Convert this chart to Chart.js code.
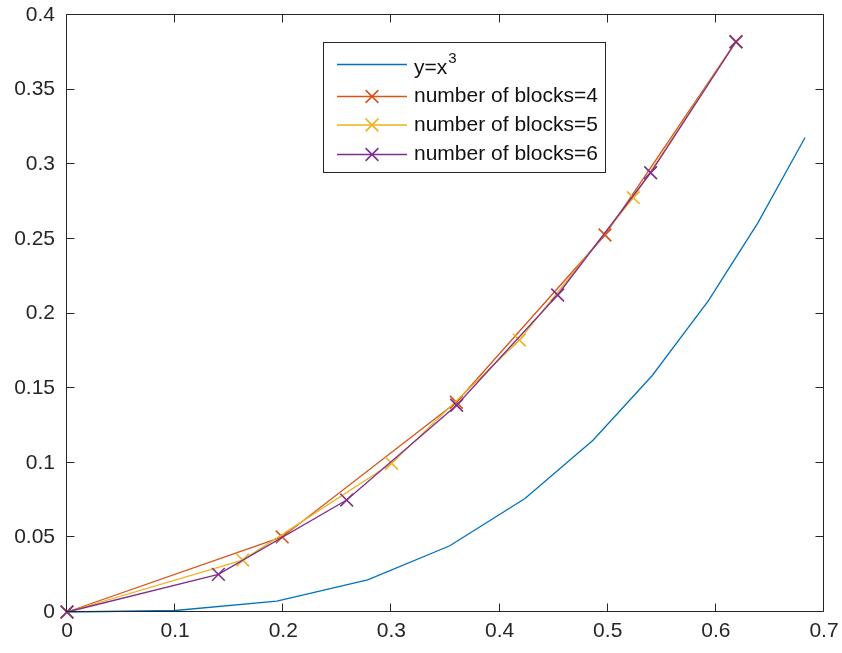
<!DOCTYPE html>
<html>
<head>
<meta charset="utf-8">
<script src="https://cdn.jsdelivr.net/npm/chart.js@4/dist/chart.umd.min.js"></script>
<style>
  html, body { margin: 0; padding: 0; background: #ffffff; }
  canvas { display: block; }
</style>
</head>
<body>
<canvas id="chart" width="842" height="653"></canvas>
<script>
// Reference curve y = x^3, sampled at the mesh nodes
const cubeX = [0, 0.1, 0.194, 0.278, 0.354, 0.4235, 0.4864, 0.541, 0.593, 0.639, 0.6825];
const cubeY = [0, 0.001, 0.0073, 0.0215, 0.0444, 0.076, 0.1151, 0.1583, 0.2085, 0.2609, 0.3179];

// Piecewise approximations for different block counts
const blocks4X = [0, 0.199, 0.3600, 0.4975, 0.6186];
const blocks4Y = [0, 0.0503, 0.1405, 0.2526, 0.3821];
const blocks5X = [0, 0.1625, 0.3002, 0.4183, 0.5237, 0.6186];
const blocks5Y = [0, 0.0348, 0.0996, 0.1822, 0.2776, 0.3821];
const blocks6X = [0, 0.1400, 0.2586, 0.3603, 0.4537, 0.5397, 0.6186];
const blocks6Y = [0, 0.0252, 0.0750, 0.1385, 0.2124, 0.2943, 0.3821];

// Axis ticks
const xTickValues = [0, 0.1, 0.2, 0.3, 0.4, 0.5, 0.6, 0.7];
const xTickLabels = ['0', '0.1', '0.2', '0.3', '0.4', '0.5', '0.6', '0.7'];
const yTickValues = [0, 0.05, 0.1, 0.15, 0.2, 0.25, 0.3, 0.35, 0.4];
const yTickLabels = ['0', '0.05', '0.1', '0.15', '0.2', '0.25', '0.3', '0.35', '0.4'];

// Legend entries: base text plus optional superscript
const seriesNames = [
  { text: 'y=x', sup: '3' },
  { text: 'number of blocks=4', sup: '' },
  { text: 'number of blocks=5', sup: '' },
  { text: 'number of blocks=6', sup: '' }
];

const COLORS = ['#0072BD', '#D95319', '#EDB120', '#7E2F8E'];
const AXIS_COLOR = '#262626';
const FONT_FAMILY = "'Liberation Sans', Arial, Helvetica, sans-serif";
const FONT_SIZE = 21;

function toPoints(xs, ys) {
  return xs.map((x, i) => ({ x: x, y: ys[i] }));
}

function lineDataset(idx, xs, ys, withMarkers, order) {
  return {
    label: seriesNames[idx].text + seriesNames[idx].sup,
    data: toPoints(xs, ys),
    showLine: true,
    borderColor: COLORS[idx],
    backgroundColor: COLORS[idx],
    borderWidth: 1.3,
    pointStyle: 'crossRot',
    pointRadius: withMarkers ? 9 : 0,
    pointHoverRadius: withMarkers ? 9 : 0,
    pointBorderWidth: 1.6,
    pointBorderColor: COLORS[idx],
    tension: 0,
    clip: false,
    order: order
  };
}

// Box, inward tick marks and legend, drawn in the MATLAB figure style
const boxAndLegend = {
  id: 'boxAndLegend',
  afterDatasetsDraw(chart) {
    const ctx = chart.ctx;
    const a = chart.chartArea;
    const xs = chart.scales.x, ys = chart.scales.y;
    const L = Math.round(a.left) - 0.5, R = Math.round(a.right) - 0.5;
    const T = Math.round(a.top) - 0.5, B = Math.round(a.bottom) - 0.5;
    const tick = 8;
    ctx.save();
    ctx.strokeStyle = AXIS_COLOR;
    ctx.lineWidth = 1;
    ctx.beginPath();
    ctx.rect(L, T, R - L, B - T);
    xTickValues.forEach(v => {
      const px = Math.round(xs.getPixelForValue(v)) - 0.5;
      ctx.moveTo(px, B); ctx.lineTo(px, B - tick);
      ctx.moveTo(px, T); ctx.lineTo(px, T + tick);
    });
    yTickValues.forEach(v => {
      const py = Math.round(ys.getPixelForValue(v)) - 0.5;
      ctx.moveTo(L, py); ctx.lineTo(L + tick, py);
      ctx.moveTo(R, py); ctx.lineTo(R - tick, py);
    });
    ctx.stroke();

    // Legend
    const box = { x: 323.5, y: 42.5, w: 282, h: 130 };
    ctx.fillStyle = '#ffffff';
    ctx.fillRect(box.x, box.y, box.w, box.h);
    ctx.strokeStyle = AXIS_COLOR;
    ctx.strokeRect(box.x, box.y, box.w, box.h);
    const rowY = [64.5, 96.5, 125, 154.5];
    const lineX0 = 337, lineX1 = 407, textX = 414;
    ctx.textBaseline = 'middle';
    ctx.textAlign = 'left';
    seriesNames.forEach((s, i) => {
      const y = rowY[i];
      ctx.strokeStyle = COLORS[i];
      ctx.lineWidth = 1.3;
      ctx.beginPath();
      ctx.moveTo(lineX0, y); ctx.lineTo(lineX1, y);
      ctx.stroke();
      if (i > 0) {
        const cx = (lineX0 + lineX1) / 2, r = 6.4;
        ctx.lineWidth = 1.6;
        ctx.beginPath();
        ctx.moveTo(cx - r, y - r); ctx.lineTo(cx + r, y + r);
        ctx.moveTo(cx + r, y - r); ctx.lineTo(cx - r, y + r);
        ctx.stroke();
      }
      ctx.fillStyle = '#111111';
      const ty = i === 0 ? y + 4 : y;
      ctx.font = FONT_SIZE + 'px ' + FONT_FAMILY;
      ctx.fillText(s.text, textX, ty);
      if (s.sup) {
        const w = ctx.measureText(s.text).width;
        ctx.font = '15px ' + FONT_FAMILY;
        ctx.fillText(s.sup, textX + w + 1, ty - 10);
      }
    });
    ctx.restore();
  }
};

new Chart(document.getElementById('chart'), {
  type: 'scatter',
  data: {
    datasets: [
      lineDataset(0, cubeX, cubeY, false, 3),
      lineDataset(1, blocks4X, blocks4Y, true, 2),
      lineDataset(2, blocks5X, blocks5Y, true, 1),
      lineDataset(3, blocks6X, blocks6Y, true, 0)
    ]
  },
  options: {
    responsive: false,
    animation: false,
    events: [],
    layout: { padding: { top: 15, right: 18, left: 0, bottom: 0 } },
    plugins: {
      legend: { display: false },
      tooltip: { enabled: false }
    },
    scales: {
      x: {
        type: 'linear',
        min: 0,
        max: 0.7,
        grid: { display: false, drawTicks: false },
        border: { display: false },
        afterBuildTicks: s => { s.ticks = xTickValues.map(v => ({ value: v })); },
        afterFit: s => { s.height = 41; s.paddingLeft = 0; s.paddingRight = 0; },
        ticks: {
          autoSkip: false,
          maxRotation: 0,
          padding: 7,
          color: AXIS_COLOR,
          font: { family: FONT_FAMILY, size: FONT_SIZE },
          callback: (v, i) => xTickLabels[i]
        }
      },
      y: {
        type: 'linear',
        min: 0,
        max: 0.4,
        grid: { display: false, drawTicks: false },
        border: { display: false },
        afterBuildTicks: s => { s.ticks = yTickValues.map(v => ({ value: v })); },
        afterFit: s => { s.width = 67; s.paddingTop = 0; s.paddingBottom = 0; },
        ticks: {
          autoSkip: false,
          padding: 12,
          color: AXIS_COLOR,
          font: { family: FONT_FAMILY, size: FONT_SIZE },
          callback: (v, i) => yTickLabels[i]
        }
      }
    }
  },
  plugins: [boxAndLegend]
});
</script>
</body>
</html>
